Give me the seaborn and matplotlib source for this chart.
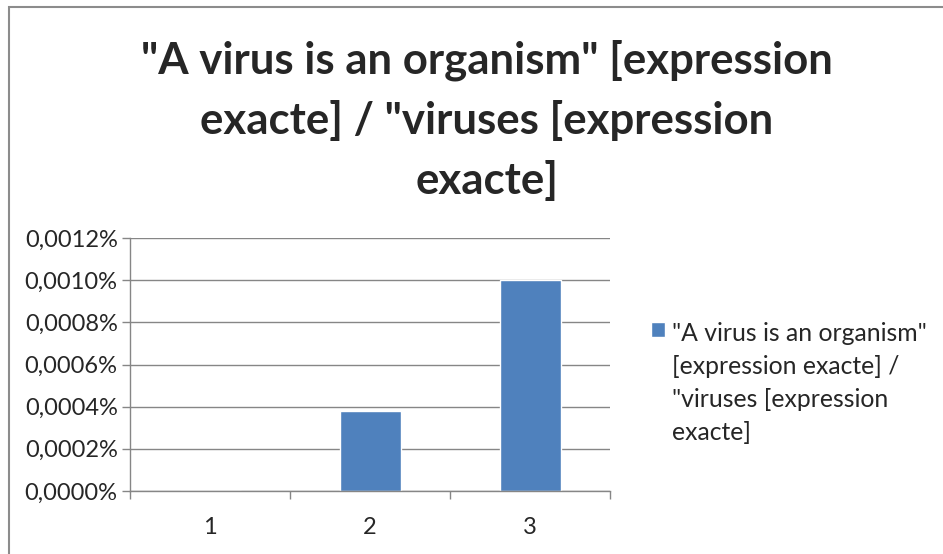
import matplotlib
matplotlib.use("Agg")
import matplotlib.pyplot as plt
import matplotlib.patches as mpatches
from matplotlib.ticker import FuncFormatter, FixedLocator
import seaborn as sns

# data (values in percent)
categories = ["1", "2", "3"]
values = [0.0, 0.00038, 0.0010]
series_name = '"A virus is an organism"\n[expression exacte] /\n"viruses [expression\nexacte]'
title = '"A virus is an organism" [expression\nexacte] / "viruses [expression\nexacte]'
y_ticks = [0.0, 0.0002, 0.0004, 0.0006, 0.0008, 0.0010, 0.0012]

sns.set_style("white")
plt.rcParams["font.family"] = ["Lato", "DejaVu Sans"]

fig = plt.figure(figsize=(9.43, 5.54), dpi=100)
ax = fig.add_axes([0.138, 0.114, 0.509, 0.456])

sns.barplot(x=categories, y=values, color="#4F81BD", width=0.38,
            saturation=1, label=series_name, ax=ax)

ax.set_xlim(-0.5, 2.5)
ax.set_ylim(0, 0.0012)
ax.yaxis.set_major_locator(FixedLocator(y_ticks))
ax.yaxis.set_major_formatter(FuncFormatter(lambda v, p: f"{v:.4f}%".replace(".", ",")))
ax.grid(axis="y", color="#868686", lw=1)
ax.set_axisbelow(True)
ax.set_xlabel("")
ax.set_ylabel("")

for s in ["top", "right"]:
    ax.spines[s].set_visible(False)
for s in ["left", "bottom"]:
    ax.spines[s].set_color("#868686")
    ax.spines[s].set_linewidth(1)

# category boundary ticks on x, labels centred
ax.set_xticks([-0.5, 0.5, 1.5, 2.5], minor=True)
ax.tick_params(axis="x", which="minor", length=6, color="#868686", width=1, bottom=True)
ax.tick_params(axis="x", which="major", length=0, labelsize=17, pad=19)
ax.tick_params(axis="y", length=6, color="#868686", width=1, left=True, labelsize=17, pad=3)

leg = ax.legend(loc="upper left", bbox_to_anchor=(0.69, 0.418), bbox_transform=fig.transFigure,
                frameon=False, fontsize=17.8, handlelength=0.56, handleheight=0.56,
                handletextpad=0.3, borderpad=0, borderaxespad=0)
for t in leg.get_texts():
    t.set_linespacing(1.52)
# square sits beside the first line, as in the original
for col in leg._legend_handle_box.get_children():
    for item in col.get_children():
        item.align = "top"

fig.text(0.516, 0.783, title, ha="center", va="center", fontsize=31.5,
         fontweight="bold", linespacing=1.55)

fig.patches.append(mpatches.Rectangle((0.0095, -0.2), 1.2, 1.187, transform=fig.transFigure,
                                      fill=False, edgecolor="#8c8c8c", lw=1.5))

fig.savefig("out.png", dpi=100)
